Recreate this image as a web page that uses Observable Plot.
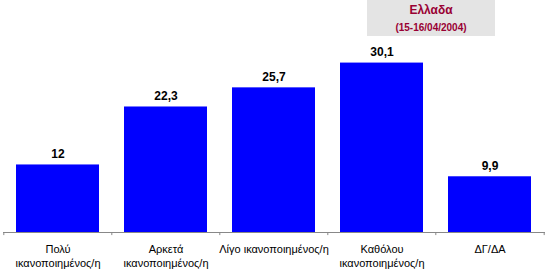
<!DOCTYPE html>
<html>
<head>
<meta charset="utf-8">
<script src="https://cdn.jsdelivr.net/npm/d3@7"></script>
<script src="https://cdn.jsdelivr.net/npm/@observablehq/plot@0.6"></script>
<style>
  html, body { margin: 0; padding: 0; background: #fff; }
  #wrap { position: relative; width: 550px; height: 273px; font-family: "Liberation Sans", Arial, sans-serif; }
  #title { position: absolute; left: 367px; top: 0px; width: 128px; height: 36px; background: #e4e4e4; color: #990033; text-align: center; font-weight: bold; }
  #title .t1 { font-size: 12px; position: absolute; left: 0; right: 0; top: 3px; }
  #title .t2 { font-size: 10px; position: absolute; left: 0; right: 0; top: 22px; }
</style>
</head>
<body>
<div id="wrap">
  <div id="chart"></div>
  <div id="title"><div class="t1">Ελλαδα</div><div class="t2">(15-16/04/2004)</div></div>
</div>
<script>
const categories = ["Πολύ\nικανοποιημένος/η", "Αρκετά\nικανοποιημένος/η", "Λίγο ικανοποιημένος/η", "Καθόλου\nικανοποιημένος/η", "ΔΓ/ΔΑ"];
const values = [12, 22.3, 25.7, 30.1, 9.9];
const valueLabels = ["12", "22,3", "25,7", "30,1", "9,9"];

const data = categories.map((c, i) => ({cat: c, value: values[i], label: valueLabels[i]}));

const x0 = 3, x1 = 545;
const bw = (x1 - x0) / categories.length;

const chart = Plot.plot({
  width: 550,
  height: 273,
  marginLeft: 3,
  marginRight: 5,
  marginTop: 35,
  marginBottom: 41,
  style: {fontFamily: "'Liberation Sans', Arial, sans-serif", background: "transparent"},
  x: {domain: categories, paddingInner: 0.23, paddingOuter: 0.115, axis: null},
  y: {domain: [0, 35], axis: null},
  marks: [
    Plot.barY(data, {x: "cat", y: "value", fill: "#0000ff"}),
    Plot.ruleY([0], {stroke: "#888", strokeWidth: 1}),
    Plot.ruleX(categories, {x: d => d, y1: 0, y2: -0.55, dx: -bw / 2, stroke: "#888", clip: false}),
    Plot.ruleX([categories[categories.length - 1]], {x: d => d, y1: 0, y2: -0.55, dx: bw / 2, stroke: "#888", clip: false}),
    Plot.text(data, {x: "cat", y: "value", text: "label", dy: -7, lineAnchor: "bottom", fontSize: 12, fontWeight: "bold", fill: "#000"}),
    Plot.text(data, {x: "cat", y: 0, text: "cat", dy: 11, lineAnchor: "top", lineHeight: 1.25, fontSize: 11, fill: "#000"})
  ]
});
document.getElementById("chart").appendChild(chart);
</script>
</body>
</html>
